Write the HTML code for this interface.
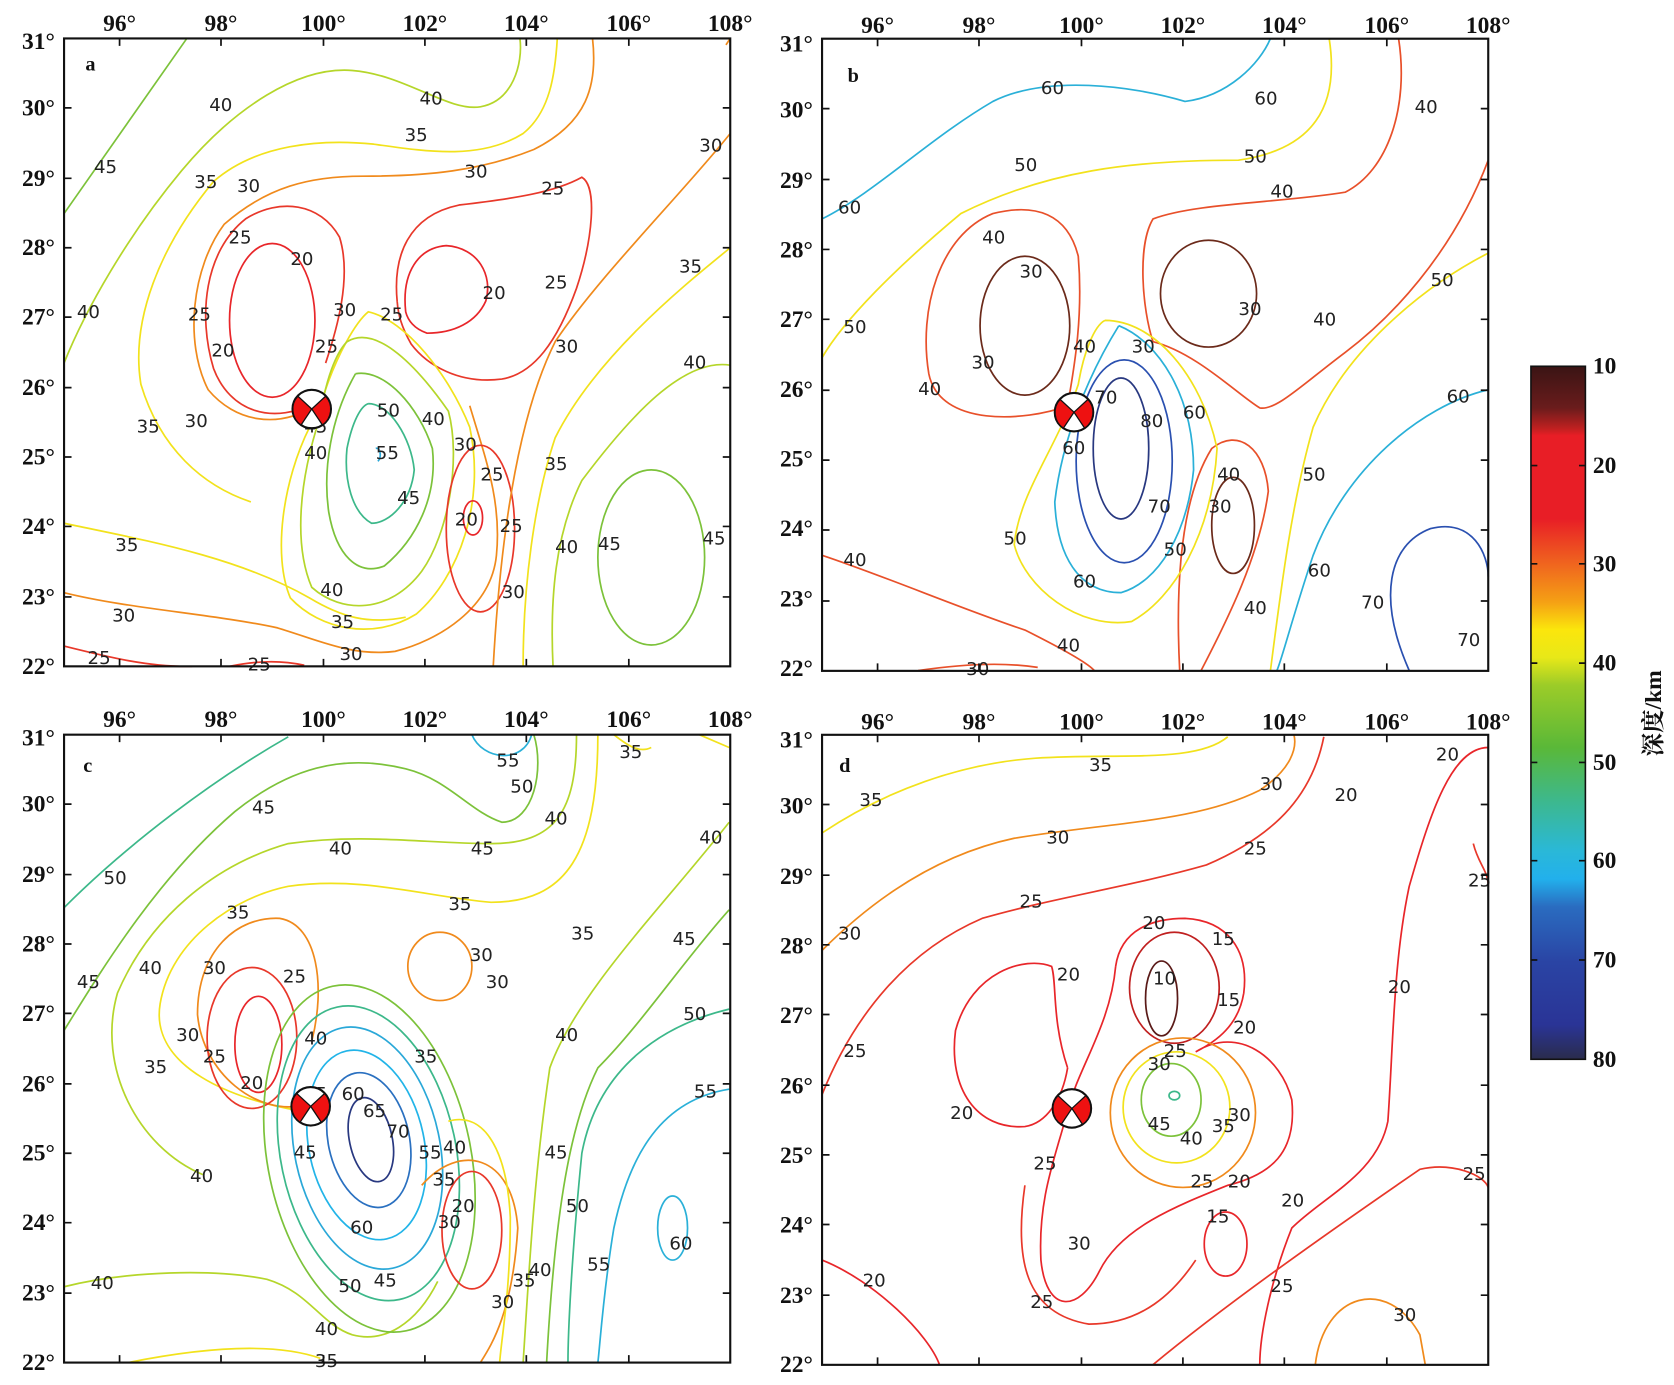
<!DOCTYPE html>
<html><head><meta charset="utf-8"><style>
html,body{margin:0;padding:0;background:#fff}
svg{display:block}
.ax{font-family:"Liberation Serif",serif;font-weight:bold;font-size:22px;fill:#111}
.cl{font-family:"DejaVu Sans","Liberation Sans",sans-serif;font-size:17px;fill:#222}
path,ellipse{fill:none;stroke-width:1.6}
</style></head><body>
<svg width="1674" height="1385" viewBox="0 0 1568 1297" preserveAspectRatio="none" xmlns="http://www.w3.org/2000/svg">
<defs>
<g id="fr">
<rect x="60" y="36" width="624" height="588" fill="none" stroke="#111" stroke-width="2"/>
<path stroke="#111" stroke-width="1.5" d="M112,36v7M207,36v7M303,36v7M398,36v7M493,36v7M589,36v7M112,624v-7M207,624v-7M303,624v-7M398,624v-7M493,624v-7M589,624v-7M60,559h7M60,493h7M60,428h7M60,363h7M60,297h7M60,232h7M60,167h7M60,101h7M684,559h-7M684,493h-7M684,428h-7M684,363h-7M684,297h-7M684,232h-7M684,167h-7M684,101h-7"/>
</g>
<g id="ll">
<text x="112" y="29" text-anchor="middle">96°</text><text x="207" y="29" text-anchor="middle">98°</text><text x="303" y="29" text-anchor="middle">100°</text><text x="398" y="29" text-anchor="middle">102°</text><text x="493" y="29" text-anchor="middle">104°</text><text x="589" y="29" text-anchor="middle">106°</text><text x="684" y="29" text-anchor="middle">108°</text>
<text x="36" y="631" text-anchor="middle">22°</text><text x="36" y="566" text-anchor="middle">23°</text><text x="36" y="500" text-anchor="middle">24°</text><text x="36" y="435" text-anchor="middle">25°</text><text x="36" y="370" text-anchor="middle">26°</text><text x="36" y="304" text-anchor="middle">27°</text><text x="36" y="239" text-anchor="middle">28°</text><text x="36" y="174" text-anchor="middle">29°</text><text x="36" y="108" text-anchor="middle">30°</text><text x="36" y="46" text-anchor="middle">31°</text>
</g>
<g id="bb">
<circle r="18" style="fill:#fff;stroke:#111;stroke-width:2"/>
<path d="M0,0L-13,-12A18,18 0 0 0 -10,15Z" style="fill:#e11;stroke:#111;stroke-width:1.2"/>
<path d="M0,0L13,-12A18,18 0 0 1 10,15Z" style="fill:#e11;stroke:#111;stroke-width:1.2"/>
</g>
</defs>

<g class="ax"><use href="#ll"/><use href="#ll" transform="translate(710,2)"/><use href="#ll" transform="translate(0,652)"/><use href="#ll" transform="translate(710,654)"/></g>

<!-- Panel a -->
<g>
<path stroke="#7cc23a" d="M60,200 L175,36"/>
<path stroke="#b5d62a" d="M60,340 C80,290 120,220 170,160 C220,100 280,62 330,66 C380,70 420,105 450,100 C480,95 490,60 487,36"/>
<path stroke="#f2e21c" d="M235,470 C190,455 150,420 132,360 C122,300 150,230 200,170 C240,135 300,130 350,135 C400,142 450,150 490,125 C515,105 520,70 522,36"/>
<path stroke="#f08a1c" d="M295,380 C260,402 220,395 195,365 C172,320 180,250 210,210 C250,175 290,165 340,165 C400,165 450,160 500,140 C550,115 560,80 555,36"/>
<path stroke="#e8382a" d="M300,375 C255,400 215,385 200,345 C185,295 192,235 230,205 C262,185 300,190 318,222 C330,260 315,310 305,340"/>
<ellipse stroke="#e8262a" cx="255" cy="300" rx="40" ry="72"/>
<path stroke="#e8382a" d="M372,282 C368,240 382,202 430,192 C482,186 520,180 545,166 C560,175 555,225 540,270 C522,320 500,350 470,355 C430,360 400,342 385,322 C376,306 373,295 372,282"/>
<path stroke="#e8262a" d="M380,292 C376,255 392,232 418,230 C448,232 462,258 455,282 C446,302 425,312 400,312 C388,308 382,300 380,292"/>
<path stroke="#f2e21c" d="M300,380 C315,330 335,300 345,292 C380,300 420,350 440,400 C455,470 430,540 390,575 C350,600 300,590 272,560 C255,520 265,450 290,400"/>
<path stroke="#b5d62a" d="M325,320 C350,305 385,335 420,385 C432,430 420,500 395,535 C365,575 320,575 292,550 C275,510 280,450 300,390 C305,355 315,330 325,320"/>
<path stroke="#7cc23a" d="M333,350 C360,345 392,380 405,420 C410,465 390,505 360,530 C335,540 315,520 308,480 C302,440 310,390 333,350"/>
<path stroke="#3cb88a" d="M345,378 C365,378 385,410 388,440 C385,470 365,490 348,490 C330,480 322,450 325,420 C330,395 338,380 345,378"/>
<path stroke="#2aa8d8" d="M352,420 C356,418 358,428 354,432"/>
<path stroke="#f08a1c" d="M440,380 C455,430 470,470 465,520 C460,570 410,600 370,610 C330,615 300,600 260,588 C200,575 120,570 60,555"/>
<path stroke="#f2e21c" d="M60,490 C130,505 220,520 290,560 C320,578 345,585 380,578"/>
<ellipse stroke="#e8382a" cx="450" cy="495" rx="32" ry="78"/>
<ellipse stroke="#e8262a" cx="443" cy="485" rx="9" ry="16"/>
<path stroke="#e8382a" d="M60,605 C100,615 140,625 180,624 M215,624 C240,619 262,618 285,623"/>
<path stroke="#f08a1c" d="M684,125 C640,180 560,260 520,320 C490,380 470,480 462,624"/>
<path stroke="#f2e21c" d="M684,232 C650,260 560,330 520,410 C500,470 490,550 490,624"/>
<path stroke="#b5d62a" d="M684,342 C640,335 590,390 545,450 C520,500 515,560 518,624"/>
<ellipse stroke="#7cc23a" cx="610" cy="522" rx="50" ry="82"/>
<path stroke="#f08a1c" d="M684,36 L680,42"/>
<text class="ax" x="80" y="66" style="font-size:19px">a</text>
<g class="cl"><text x="88" y="162">45</text><text x="196" y="104">40</text><text x="393" y="98">40</text><text x="379" y="132">35</text><text x="435" y="166">30</text><text x="507" y="182">25</text><text x="272" y="248">20</text><text x="214" y="228">25</text><text x="222" y="180">30</text><text x="182" y="176">35</text><text x="72" y="298">40</text><text x="176" y="300">25</text><text x="198" y="334">20</text><text x="173" y="400">30</text><text x="128" y="405">35</text><text x="353" y="390">50</text><text x="352" y="430">55</text><text x="295" y="330">25</text><text x="312" y="296">30</text><text x="356" y="300">25</text><text x="452" y="280">20</text><text x="510" y="270">25</text><text x="520" y="330">30</text><text x="640" y="345">40</text><text x="636" y="255">35</text><text x="655" y="142">30</text><text x="395" y="398">40</text><text x="425" y="422">30</text><text x="450" y="450">25</text><text x="426" y="492">20</text><text x="468" y="498">25</text><text x="372" y="472">45</text><text x="285" y="430">40</text><text x="285" y="405">45</text><text x="510" y="440">35</text><text x="520" y="518">40</text><text x="560" y="515">45</text><text x="658" y="510">45</text><text x="470" y="560">30</text><text x="108" y="516">35</text><text x="105" y="582">30</text><text x="300" y="558">40</text><text x="310" y="588">35</text><text x="318" y="618">30</text><text x="82" y="622">25</text><text x="232" y="628">25</text></g>
<use href="#bb" x="292" y="383"/>
<use href="#fr"/>
</g>

<!-- Panel b -->
<g>
<path stroke="#2ab0d8" d="M770,205 C820,180 870,130 930,95 C980,70 1060,80 1110,95 C1150,90 1180,60 1190,36"/>
<path stroke="#2ab0d8" d="M1394,365 C1330,380 1260,440 1230,520 C1210,580 1200,620 1196,628"/>
<path stroke="#f2e21c" d="M770,335 C790,300 840,250 900,200 C980,160 1060,150 1160,150 C1230,140 1255,100 1245,36"/>
<path stroke="#f2e21c" d="M1394,237 C1330,270 1260,330 1230,400 C1210,470 1200,550 1190,628"/>
<path stroke="#e8502a" d="M1310,36 C1320,100 1300,160 1260,180 C1200,190 1120,190 1080,205 C1065,230 1070,290 1080,320"/>
<path stroke="#e8502a" d="M1000,380 C960,395 880,400 870,350 C860,290 880,220 930,200 C970,190 1000,200 1010,240 C1015,300 1005,350 1000,380"/>
<path stroke="#e8502a" d="M1394,150 C1360,240 1300,300 1260,330 C1220,360 1195,385 1180,382 C1160,370 1120,330 1080,320"/>
<path stroke="#e8502a" d="M770,520 C830,540 900,570 960,590 C1000,610 1020,622 1025,628"/>
<path stroke="#e8502a" d="M1125,628 C1150,580 1180,520 1188,460 C1185,420 1160,400 1135,420 C1110,460 1100,530 1105,628"/>
<ellipse stroke="#6b2a1a" cx="960" cy="305" rx="42" ry="65"/>
<ellipse stroke="#6b2a1a" cx="1132" cy="275" rx="45" ry="50"/>
<ellipse stroke="#6b2a1a" cx="1155" cy="492" rx="20" ry="45"/>
<path stroke="#e8502a" d="M860,628 C900,622 940,620 972,625"/>
<path stroke="#f2e21c" d="M1035,300 C1080,300 1125,350 1140,420 C1135,500 1100,560 1060,582 C1010,590 960,550 950,510 C955,460 990,420 1010,360 C1015,330 1025,305 1035,300"/>
<path stroke="#2ab0d8" d="M1048,305 C1085,320 1118,370 1118,440 C1112,500 1085,545 1050,555 C1010,555 990,520 988,470 C995,410 1020,350 1048,305"/>
<ellipse stroke="#2a50b0" cx="1053" cy="432" rx="45" ry="95"/>
<ellipse stroke="#283880" cx="1050" cy="420" rx="26" ry="66"/>
<path stroke="#2a50b0" d="M1320,628 C1290,560 1300,510 1340,495 C1380,485 1394,520 1394,540"/>
<text class="ax" x="794" y="77" style="font-size:19px">b</text>
<g class="cl"><text x="975" y="88">60</text><text x="1175" y="98">60</text><text x="950" y="160">50</text><text x="1165" y="152">50</text><text x="1190" y="185">40</text><text x="1325" y="106">40</text><text x="785" y="200">60</text><text x="920" y="228">40</text><text x="955" y="260">30</text><text x="1160" y="295">30</text><text x="1230" y="305">40</text><text x="1340" y="268">50</text><text x="1355" y="377">60</text><text x="790" y="312">50</text><text x="860" y="370">40</text><text x="910" y="345">30</text><text x="1005" y="330">40</text><text x="1060" y="330">30</text><text x="1068" y="400">80</text><text x="1108" y="392">60</text><text x="1025" y="378">70</text><text x="995" y="425">60</text><text x="1075" y="480">70</text><text x="1140" y="450">40</text><text x="1132" y="480">30</text><text x="1220" y="450">50</text><text x="1090" y="520">50</text><text x="940" y="510">50</text><text x="790" y="530">40</text><text x="1005" y="550">60</text><text x="1165" y="575">40</text><text x="1225" y="540">60</text><text x="1275" y="570">70</text><text x="1365" y="605">70</text><text x="990" y="610">40</text><text x="905" y="632">30</text></g>
<use href="#bb" x="1006" y="386"/>
<use href="#fr" transform="translate(710,0) scale(1,1.0068)"/>
</g>

<!-- Panel c -->
<g>
<path stroke="#3cb88a" d="M60,850 C120,790 200,730 270,690"/>
<path stroke="#7cc23a" d="M60,965 C100,900 150,820 220,760 C270,720 320,705 380,720 C420,730 440,760 470,770 C500,770 510,720 500,688"/>
<path stroke="#b5d62a" d="M190,1100 C130,1075 90,1000 110,930 C140,860 200,810 270,790 C340,780 400,790 460,790 C520,790 540,760 540,688"/>
<path stroke="#f2e21c" d="M280,1040 C220,1030 140,1000 150,940 C160,880 220,840 270,830 C340,820 400,840 460,845 C530,845 560,800 560,688"/>
<path stroke="#f08a1c" d="M285,1035 C240,1045 190,1005 185,950 C185,890 222,858 262,860 C298,866 305,925 292,975"/>
<ellipse stroke="#e8382a" cx="236" cy="972" rx="42" ry="66"/>
<ellipse stroke="#e8262a" cx="242" cy="978" rx="22" ry="45"/>
<path stroke="#b5d62a" d="M60,1205 C120,1190 200,1188 250,1198 C290,1210 300,1240 330,1250 C360,1258 390,1240 410,1200"/>
<path stroke="#f2e21c" d="M120,1276 C200,1260 260,1258 300,1272"/>
<g transform="rotate(-12 345 1080)">
<ellipse stroke="#7cc23a" cx="345" cy="1085" rx="95" ry="165"/>
<ellipse stroke="#3cb88a" cx="345" cy="1080" rx="82" ry="140"/>
<ellipse stroke="#2aa8d8" cx="345" cy="1075" rx="68" ry="115"/>
<ellipse stroke="#22b4e8" cx="345" cy="1072" rx="54" ry="90"/>
<ellipse stroke="#2a70c0" cx="348" cy="1068" rx="38" ry="64"/>
<ellipse stroke="#283880" cx="350" cy="1068" rx="20" ry="40"/>
</g>
<ellipse stroke="#f08a1c" cx="412" cy="905" rx="30" ry="32"/>
<ellipse stroke="#e8382a" cx="442" cy="1152" rx="28" ry="55"/>
<path stroke="#f08a1c" d="M395,1110 C430,1070 480,1080 485,1150 C480,1230 460,1260 450,1276"/>
<path stroke="#f2e21c" d="M420,1050 C455,1040 475,1080 478,1140 C478,1210 470,1250 468,1276"/>
<path stroke="#b5d62a" d="M683,770 C620,850 540,930 515,1000 C500,1100 495,1200 490,1276"/>
<path stroke="#7cc23a" d="M683,852 C640,900 600,960 560,1000 C535,1050 520,1130 512,1276"/>
<path stroke="#3cb88a" d="M683,945 C620,960 560,1000 545,1080 C535,1180 532,1250 532,1276"/>
<path stroke="#2ab0d8" d="M683,1020 C620,1030 590,1080 575,1150 C565,1210 562,1260 560,1276"/>
<ellipse stroke="#2ab0d8" cx="630" cy="1150" rx="14" ry="30"/>
<path stroke="#2ab0d8" d="M442,688 C452,712 490,716 498,688"/>
<path stroke="#f2e21c" d="M575,688 C590,700 600,705 610,700 M655,688 L683,700"/>
<text class="ax" x="78" y="723" style="font-size:19px">c</text>
<g class="cl"><text x="465" y="718">55</text><text x="478" y="742">50</text><text x="510" y="772">40</text><text x="580" y="710">35</text><text x="236" y="762">45</text><text x="308" y="800">40</text><text x="441" y="800">45</text><text x="420" y="852">35</text><text x="97" y="828">50</text><text x="212" y="860">35</text><text x="190" y="912">30</text><text x="265" y="920">25</text><text x="130" y="912">40</text><text x="72" y="925">45</text><text x="440" y="900">30</text><text x="455" y="925">30</text><text x="535" y="880">35</text><text x="630" y="885">45</text><text x="655" y="790">40</text><text x="640" y="955">50</text><text x="650" y="1028">55</text><text x="520" y="975">40</text><text x="135" y="1005">35</text><text x="165" y="975">30</text><text x="190" y="995">25</text><text x="225" y="1020">20</text><text x="285" y="978">40</text><text x="285" y="1030">35</text><text x="320" y="1030">60</text><text x="340" y="1046">65</text><text x="362" y="1065">70</text><text x="388" y="995">35</text><text x="392" y="1085">55</text><text x="415" y="1080">40</text><text x="405" y="1110">35</text><text x="423" y="1135">20</text><text x="410" y="1150">30</text><text x="328" y="1155">60</text><text x="178" y="1107">40</text><text x="275" y="1085">45</text><text x="510" y="1085">45</text><text x="530" y="1135">50</text><text x="550" y="1190">55</text><text x="627" y="1170">60</text><text x="85" y="1207">40</text><text x="350" y="1205">45</text><text x="317" y="1210">50</text><text x="460" y="1225">30</text><text x="480" y="1205">35</text><text x="495" y="1195">40</text><text x="295" y="1250">40</text><text x="295" y="1280">35</text></g>
<use href="#bb" x="291" y="1036"/>
<use href="#fr" transform="translate(0,652)"/>
</g>

<!-- Panel d -->
<g>
<path stroke="#f2e21c" d="M770,780 C830,740 900,715 970,710 C1050,705 1120,715 1150,690"/>
<path stroke="#f08a1c" d="M770,890 C820,840 880,800 950,785 C1040,770 1120,770 1180,740 C1210,720 1215,700 1212,688"/>
<path stroke="#e8382a" d="M770,1025 C800,950 850,890 920,860 C990,840 1060,830 1130,810 C1200,780 1230,740 1240,690"/>
<path stroke="#e8262a" d="M1394,700 C1360,700 1340,760 1320,830 C1305,900 1305,980 1300,1050 C1290,1100 1240,1120 1210,1150 C1190,1200 1180,1250 1180,1278"/>
<path stroke="#e8262a" d="M1000,1000 C985,955 990,920 985,905 C960,895 910,910 895,965 C888,1020 915,1058 960,1055 C980,1052 995,1030 1000,1000"/>
<path stroke="#e8262a" d="M1045,905 C1050,870 1080,860 1110,860 C1150,862 1170,890 1165,930 C1160,960 1140,975 1120,985 C1160,960 1200,990 1210,1030 C1215,1080 1190,1100 1150,1110 C1100,1130 1050,1150 1030,1190 C1010,1230 980,1230 975,1180 C972,1120 990,1080 1000,1040 C1010,1000 1040,960 1045,905"/>
<ellipse stroke="#c02020" cx="1100" cy="925" rx="42" ry="52"/>
<ellipse stroke="#5a1a18" cx="1088" cy="935" rx="15" ry="35"/>
<ellipse stroke="#f08a1c" cx="1108" cy="1042" rx="68" ry="70"/>
<ellipse stroke="#f2e21c" cx="1102" cy="1037" rx="50" ry="52"/>
<ellipse stroke="#7cc23a" cx="1097" cy="1030" rx="28" ry="34"/>
<ellipse stroke="#3cb88a" cx="1100" cy="1026" rx="5" ry="4"/>
<ellipse stroke="#e8262a" cx="1148" cy="1165" rx="20" ry="30"/>
<path stroke="#e8382a" d="M960,1110 C950,1180 960,1230 1020,1240 C1070,1240 1100,1210 1120,1180"/>
<path stroke="#e8262a" d="M770,1180 C820,1200 870,1250 880,1278"/>
<path stroke="#e8382a" d="M1080,1278 C1150,1220 1250,1150 1330,1095 C1360,1088 1390,1100 1394,1112"/>
<path stroke="#f08a1c" d="M1232,1278 C1240,1210 1300,1195 1330,1250 L1335,1278"/>
<path stroke="#e8382a" d="M1380,790 C1385,810 1394,815 1394,830"/>
<text class="ax" x="786" y="723" style="font-size:19px">d</text>
<g class="cl"><text x="1020" y="722">35</text><text x="805" y="755">35</text><text x="980" y="790">30</text><text x="1180" y="740">30</text><text x="1250" y="750">20</text><text x="1165" y="800">25</text><text x="1345" y="712">20</text><text x="1375" y="830">25</text><text x="955" y="850">25</text><text x="785" y="880">30</text><text x="1070" y="870">20</text><text x="1135" y="885">15</text><text x="990" y="918">20</text><text x="1080" y="922">10</text><text x="1140" y="942">15</text><text x="1155" y="968">20</text><text x="1300" y="930">20</text><text x="1075" y="1002">30</text><text x="1090" y="990">25</text><text x="790" y="990">25</text><text x="890" y="1048">20</text><text x="1150" y="1050">30</text><text x="1135" y="1060">35</text><text x="1075" y="1058">45</text><text x="1105" y="1072">40</text><text x="968" y="1095">25</text><text x="1115" y="1112">25</text><text x="1150" y="1112">20</text><text x="1130" y="1145">15</text><text x="1200" y="1130">20</text><text x="1370" y="1105">25</text><text x="1000" y="1170">30</text><text x="1190" y="1210">25</text><text x="808" y="1205">20</text><text x="965" y="1225">25</text><text x="1305" y="1237">30</text></g>
<use href="#bb" x="1004" y="1038"/>
<use href="#fr" transform="translate(710,652) scale(1,1.0034)"/>
</g>

<!-- Colorbar -->
<defs><linearGradient id="cb" x1="0" y1="0" x2="0" y2="1">
<stop offset="0" stop-color="#3a1414"/><stop offset="0.06" stop-color="#6a1c1c"/><stop offset="0.09" stop-color="#c02020"/><stop offset="0.1" stop-color="#e81e26"/><stop offset="0.22" stop-color="#e81e26"/><stop offset="0.29" stop-color="#f06a1e"/><stop offset="0.34" stop-color="#f5a014"/><stop offset="0.38" stop-color="#fbe60c"/><stop offset="0.42" stop-color="#e8e818"/><stop offset="0.46" stop-color="#9ccc28"/><stop offset="0.55" stop-color="#5ab838"/><stop offset="0.63" stop-color="#3cb890"/><stop offset="0.7" stop-color="#2ab8d8"/><stop offset="0.74" stop-color="#22b0ec"/><stop offset="0.78" stop-color="#2a6cc0"/><stop offset="0.86" stop-color="#2a44a4"/><stop offset="0.95" stop-color="#2a3496"/><stop offset="1" stop-color="#2a2c4c"/>
</linearGradient></defs>
<rect x="1434" y="343" width="51" height="649" fill="url(#cb)" stroke="#111" stroke-width="1.5"/>
<path stroke="#111" stroke-width="1.2" d="M1434,436h6M1434,528h6M1434,621h6M1434,714h6M1434,806h6M1434,899h6M1485,436h-6M1485,528h-6M1485,621h-6M1485,714h-6M1485,806h-6M1485,899h-6"/>
<g class="ax"><text x="1492" y="350">10</text><text x="1492" y="443">20</text><text x="1492" y="535">30</text><text x="1492" y="628">40</text><text x="1492" y="721">50</text><text x="1492" y="813">60</text><text x="1492" y="906">70</text><text x="1492" y="999">80</text></g>
<text x="1556" y="668" transform="rotate(-90 1556 668)" text-anchor="middle" style="font-family:'Liberation Serif','Noto Serif CJK SC',serif;font-weight:bold;font-size:22px;fill:#111">深度/km</text>
</svg>
</body></html>
